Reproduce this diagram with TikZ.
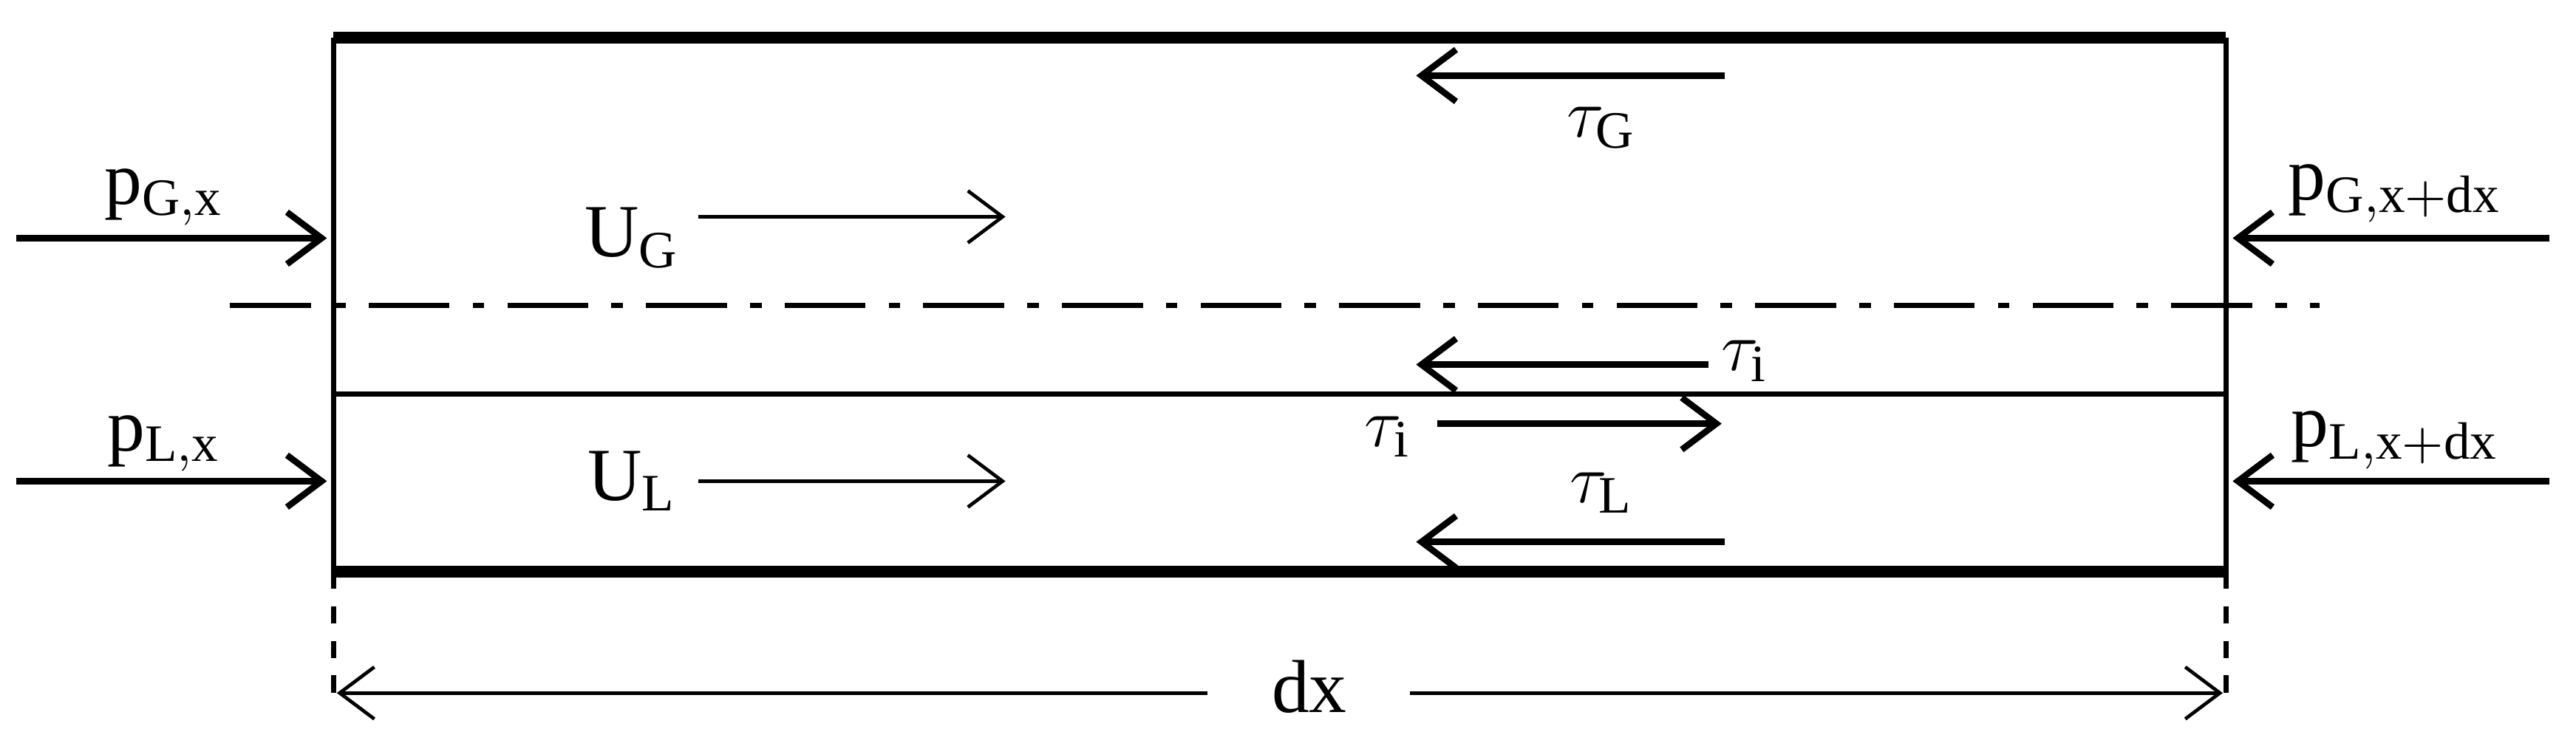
\documentclass[tikz,border=0pt]{standalone}
\usepackage{fontspec}
\setmainfont{Liberation Serif}
\usetikzlibrary{arrows.meta}
\begin{document}
\begin{tikzpicture}[x=0.01cm,y=-0.01cm,
  lab/.style={font=\fontsize{13}{15}\selectfont, inner sep=0pt},
  farrow/.style={line width=1.1pt,-{Straight Barb[length=6pt,width=9pt]}},
  tarrow/.style={line width=0.6pt,-{Straight Barb[length=6pt,width=9pt]}},
  wall/.style={line width=2pt},
  side/.style={line width=0.9pt}]
\useasboundingbox (0,0) rectangle (1568,454);
% box
\draw[side] (203,23) -- (203,348) (1355,23) -- (1355,348);
\draw[wall] (203,23) -- (1355,23);
\draw[wall] (203,348) -- (1355,348);
\draw[side] (203,240) -- (1355,240);
\draw[line width=0.9pt, dash pattern=on 14pt off 4pt on 2pt off 4pt] (140,186) -- (1412,186);
% pressure
\coordinate (a1) at (10,145); \coordinate (a2) at (199,145);
\coordinate (b1) at (10,293); \coordinate (b2) at (199,293);
\coordinate (c1) at (1552,145); \coordinate (c2) at (1359,145);
\coordinate (d1) at (1552,293); \coordinate (d2) at (1359,293);
\draw[farrow] (a1) -- (a2); \draw[farrow] (b1) -- (b2);
\draw[farrow] (c1) -- (c2); \draw[farrow] (d1) -- (d2);
\node[lab] (pg) at (100,120) {p$_{\mathrm{G,x}}$};
\node[lab] (pl) at (100,270) {p$_{\mathrm{L,x}}$};
\node[lab] (pgd) at (1458,118) {p$_{\mathrm{G,x+dx}}$};
\node[lab] (pld) at (1458,268) {p$_{\mathrm{L,x+dx}}$};
% velocities
\node[lab] (ug) at (385,145) {U$_{\mathrm{G}}$};
\node[lab] (ul) at (385,293) {U$_{\mathrm{L}}$};
\draw[tarrow] (425,132) -- (612,132);
\draw[tarrow] (425,293) -- (612,293);
% stresses
\draw[farrow] (1050,46) -- (862,46);
\node[lab] (tg) at (975,78) {$\tau_{\mathrm{G}}$};
\draw[farrow] (1040,222) -- (862,222);
\node[lab] (ti1) at (1062,220) {$\tau_{\mathrm{i}}$};
\draw[farrow] (875,258) -- (1048,258);
\node[lab] (ti2) at (845,266) {$\tau_{\mathrm{i}}$};
\draw[farrow] (1050,330) -- (862,330);
\node[lab] (tl) at (975,300) {$\tau_{\mathrm{L}}$};
% dimension
\draw[side, dashed] (203,348) -- (203,422) (1355,348) -- (1355,422);
\node[lab] (dx) at (797,418) {dx};
\draw[tarrow] (735,422) -- (205,422);
\draw[tarrow] (858,422) -- (1353,422);
\end{tikzpicture}
\end{document}
